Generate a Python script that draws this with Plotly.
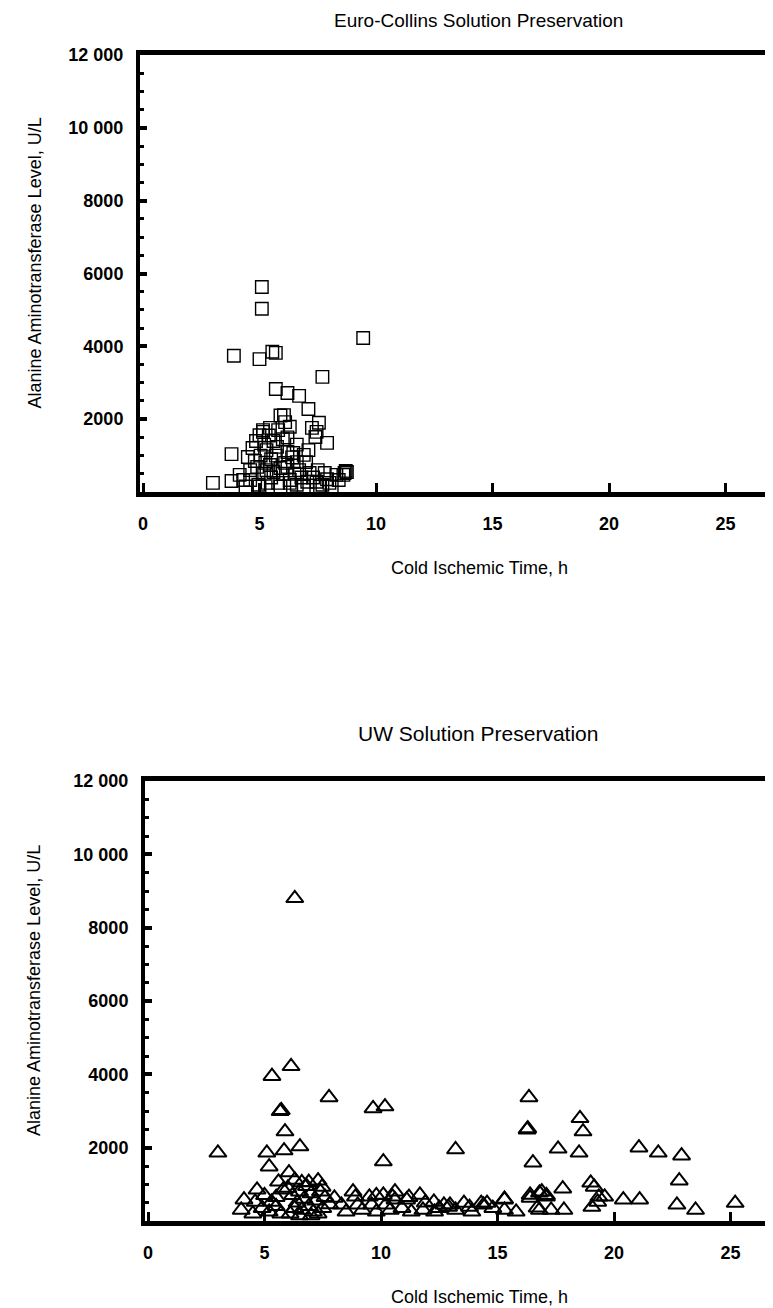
import plotly.graph_objects as go

# ---------------- data ----------------
ec_time = [5.1, 5.1, 3.9, 5.0, 5.55, 5.7, 9.45, 7.7, 5.7, 6.2, 6.7, 7.1, 6.05, 5.9, 6.1, 6.3,
           7.25, 7.55, 7.45, 7.4, 7.9, 5.15, 5.45, 5.0, 5.15, 3.8, 3.0, 3.8, 8.7, 8.6, 8.75,
           4.7, 4.5, 5.3, 5.75, 6.2, 6.45, 6.9, 7.0, 6.6, 4.9, 5.45, 5.9, 6.2, 6.7, 7.15, 7.5,
           7.8, 8.3, 8.65, 4.15, 4.3, 4.6, 4.95, 5.35, 5.8, 6.3, 6.6, 7.05, 7.45, 7.7, 8.0,
           8.4, 5.6, 6.0, 5.2, 4.8, 5.5, 6.1, 6.4, 5.05, 5.7, 6.8, 7.3, 5.2, 5.5, 6.0, 4.6,
           5.0, 5.9, 6.5, 7.9, 8.1, 4.4, 5.3, 6.6, 6.2, 5.8, 4.85, 5.4, 7.1, 6.3, 5.6, 6.9,
           7.6, 5.25]
ec_alt = [5630, 5030, 3740, 3650, 3850, 3820, 4230, 3160, 2830, 2720, 2640, 2280, 2110, 2100,
          1920, 1790, 1760, 1900, 1650, 1510, 1350, 1650, 1760, 1560, 1700, 1040, 250, 300,
          580, 470, 550, 1210, 960, 1150, 1240, 1100, 1070, 1020, 820, 820, 690, 740, 660,
          690, 600, 520, 600, 520, 470, 520, 470, 330, 330, 200, 250, 250, 330, 200, 280,
          280, 200, 250, 330, 1400, 1450, 1300, 850, 900, 800, 950, 1000, 1000, 400, 400,
          500, 400, 500, 600, 150, 150, 500, 350, 150, 150, 600, 1300, 1500, 1700, 1400,
          1550, 1150, 250, 550, 150, 150, 800]

uw_time = [6.3, 5.32, 6.14, 7.77, 5.67, 5.72, 9.66, 10.17, 5.88, 3.0, 5.1, 5.84, 6.52, 13.2,
           10.1, 5.2, 6.05, 5.6, 4.68, 4.12, 4.6, 5.3, 16.35, 16.27, 16.3, 18.54, 18.67, 17.6,
           18.5, 21.07, 21.9, 22.9, 16.52, 22.8, 17.8, 19.0, 19.15, 16.8, 16.9, 19.35, 19.6,
           20.4, 21.1, 22.7, 23.5, 25.2, 15.3, 14.4, 14.55, 13.56, 12.9, 16.4, 17.1, 16.7,
           17.3, 17.85, 19.3, 19.05, 11.67, 11.1, 10.6, 12.27, 12.7, 12.96, 13.8, 14.3, 15.3,
           16.4, 17.1, 15.3, 16.8, 7.3, 6.6, 6.3, 6.9, 7.47, 8.0, 8.9, 9.5, 10.1, 10.5, 8.3,
           9.0, 9.6, 10.2, 6.0, 6.2, 6.4, 6.5, 6.6, 6.7, 6.8, 6.9, 7.0, 7.1, 7.2, 7.4, 7.5,
           7.6, 7.8, 6.1, 6.3, 6.5, 7.0, 7.3, 4.0, 4.5, 4.9, 5.2, 5.5, 5.7, 5.0, 5.5, 5.8,
           8.5, 9.2, 9.8, 10.4, 10.9, 11.3, 11.8, 12.3, 8.8, 9.8, 10.6, 11.2, 11.9, 12.5,
           13.2, 13.9, 14.8, 15.8]
uw_alt = [8800, 3950, 4220, 3370, 2990, 3020, 3070, 3120, 2440, 1860, 1860, 1920, 2030, 1950,
          1620, 1480, 1320, 1070, 850, 580, 520, 520, 3370, 2490, 2520, 2800, 2440, 1970,
          1860, 2000, 1860, 1780, 1590, 1100, 880, 1040, 930, 770, 800, 660, 660, 580, 580,
          440, 300, 490, 580, 440, 490, 490, 380, 630, 700, 360, 300, 300, 520, 380, 710,
          580, 580, 520, 440, 440, 380, 490, 600, 710, 660, 300, 300, 1100, 1050, 1120, 1060,
          930, 630, 660, 660, 710, 660, 440, 440, 440, 440, 900, 700, 500, 800, 300, 600,
          950, 400, 750, 250, 550, 800, 350, 650, 450, 200, 350, 150, 150, 200, 300, 200,
          350, 250, 400, 200, 700, 650, 850, 250, 300, 250, 300, 350, 250, 300, 250, 800,
          700, 800, 650, 500, 350, 300, 250, 350, 250]

x_ticks = [0, 5, 10, 15, 20, 25]
y_ticks = [2000, 4000, 6000, 8000, 10000, 12000]
y_tick_labels = ["2000", "4000", "6000", "8000", "10 000", "12 000"]

titles = ["Euro-Collins Solution Preservation", "UW Solution Preservation"]
x_title = "Cold Ischemic Time, h"
y_title = "Alanine Aminotransferase Level, U/L"

# ---------------- figure ----------------
OFF = 8                      # page body margin
W, H = 773 - OFF, 1308 - OFF
FONT = "Liberation Sans, Arial, sans-serif"


def fx(p):  # screen px -> paper x
    return (p - OFF) / W


def fy(p):  # screen px -> paper y
    return 1 - (p - OFF) / H


fig = go.Figure()
fig.add_trace(go.Scatter(x=ec_time, y=ec_alt, mode="markers", xaxis="x", yaxis="y",
                         marker=dict(symbol="square-open", size=12.5, color="black",
                                     line=dict(width=1.4, color="black")),
                         showlegend=False))
fig.add_trace(go.Scatter(x=uw_time, y=uw_alt, mode="markers", xaxis="x2", yaxis="y2",
                         marker=dict(symbol="triangle-up-open", size=15, color="black",
                                     line=dict(width=2, color="black")),
                         showlegend=False))

panels = [  # (left px, top px, bottom px, title px) in screen coordinates
    (140, 55, 492, 8),
    (145, 781, 1221, 733),
]

px_per_h = 23.3
layout = dict(
    width=W, height=H,
    margin=dict(l=0, r=0, t=0, b=0),
    paper_bgcolor="white", plot_bgcolor="white",
    font=dict(family=FONT, color="black", size=16),
    showlegend=False,
)
annotations = []
for i, (left, top, bottom, ttl) in enumerate(panels):
    sx = "" if i == 0 else "2"
    x0 = -3 / px_per_h
    x1 = (773 - left - 3) / px_per_h
    layout["xaxis" + sx] = dict(
        domain=[fx(left), 1.0], range=[x0, x1], anchor="y" + sx,
        tickmode="array", tickvals=x_ticks, ticktext=[str(v) for v in x_ticks],
        ticks="inside", ticklen=9, tickwidth=2.5, tickcolor="black",
        showline=True, linewidth=5, linecolor="black", mirror=True,
        showgrid=False, zeroline=False, automargin=False,
        tickfont=dict(family=FONT, size=18, color="black", weight="bold"),
        ticklabelstandoff=11,
    )
    layout["yaxis" + sx] = dict(
        domain=[fy(bottom), fy(top)], range=[0, 12000], anchor="x" + sx,
        tickmode="array", tickvals=y_ticks, ticktext=y_tick_labels,
        ticks="inside", ticklen=7, tickwidth=3.5, tickcolor="black",
        minor=dict(ticks="inside", ticklen=4, tickwidth=3, tickcolor="black", dtick=500,
                   tick0=0, showgrid=False),
        showline=True, linewidth=4, linecolor="black", mirror=False,
        showgrid=False, zeroline=False, automargin=False,
        tickfont=dict(family=FONT, size=18, color="black", weight="bold"),
        ticklabelstandoff=9,
    )
    # panel title
    if i == 0:
        annotations.append(dict(text=titles[i], x=fx(478), y=fy(ttl), xref="paper",
                                yref="paper", showarrow=False, xanchor="center",
                                yanchor="top",
                                font=dict(family=FONT, size=19, color="black")))
    else:
        annotations.append(dict(text=titles[i], x=fx(478), y=fy(ttl), xref="paper",
                                yref="paper", showarrow=False, xanchor="center",
                                yanchor="middle",
                                font=dict(family=FONT, size=21, color="black")))
    # x title
    annotations.append(dict(text=x_title, x=fx(479), y=fy(bottom + 76), xref="paper",
                            yref="paper", showarrow=False, xanchor="center",
                            yanchor="middle", font=dict(family=FONT, size=18, color="black")))
    # y title
    annotations.append(dict(text=y_title, x=fx(34), y=fy((top + bottom) / 2 - 10),
                            xref="paper", yref="paper", showarrow=False, textangle=-90,
                            xanchor="center", yanchor="middle",
                            font=dict(family=FONT, size=18, color="black")))

layout["annotations"] = annotations
fig.update_layout(**layout)
fig.write_html("out.html")
